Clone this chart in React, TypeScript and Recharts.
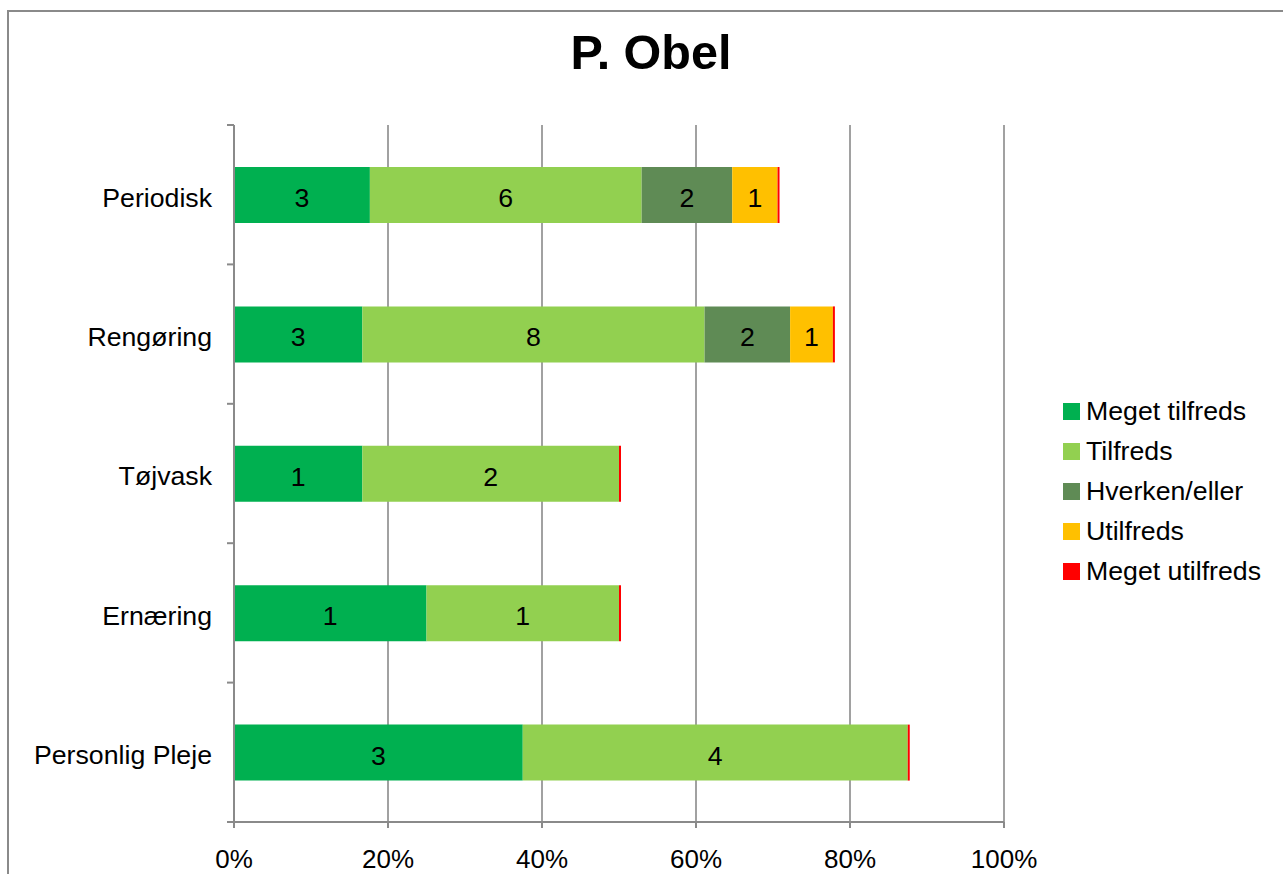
import React from 'react';
import { BarChart, Bar, XAxis, YAxis, CartesianGrid, Legend, LabelList } from 'recharts';

// Satisfaction answers per service area (counts of respondents)
const categories = ['Periodisk', 'Rengøring', 'Tøjvask', 'Ernæring', 'Personlig Pleje'];
const respondents = [17, 18, 6, 4, 8];
const megetTilfreds = [3, 3, 1, 1, 3];
const tilfreds = [6, 8, 2, 1, 4];
const hverkenEller = [2, 2, 0, 0, 0];
const utilfreds = [1, 1, 0, 0, 0];
const megetUtilfreds = [0, 0, 0, 0, 0];
const percentTicks = [0, 0.2, 0.4, 0.6, 0.8, 1];

const seriesNames = ['Meget tilfreds', 'Tilfreds', 'Hverken/eller', 'Utilfreds', 'Meget utilfreds'];
const seriesColors = ['#00B050', '#92D050', '#5F8B55', '#FFC000', '#FF0000'];
const seriesCounts = [megetTilfreds, tilfreds, hverkenEller, utilfreds, megetUtilfreds];

// Each row holds the count (n#) and the share of respondents (p#) per answer
const rows = categories.map((name, i) => {
  const row: Record<string, string | number> = { name };
  seriesCounts.forEach((counts, s) => {
    row[`n${s}`] = counts[i];
    row[`p${s}`] = counts[i] / respondents[i];
  });
  return row;
});

const FONT = '"Liberation Sans", Arial, sans-serif';
const TEXT_SIZE = 26.7;
const AXIS_COLOR = '#8a8a8a';
const W = 1283;
const H = 874;
const MARGIN = { top: 125, right: 279, bottom: 12, left: 0 };
const Y_AXIS_W = 234;
const X_AXIS_H = 40;
const PLOT_H = H - MARGIN.top - MARGIN.bottom - X_AXIS_H;
const HALF_BAND = PLOT_H / categories.length / 2;

const CategoryTick = (props: any) => {
  const { x, y, payload, index } = props;
  return (
    <g>
      <line x1={x - 7} x2={x} y1={y - HALF_BAND} y2={y - HALF_BAND} stroke={AXIS_COLOR} strokeWidth={2} />
      {index === categories.length - 1 && (
        <line x1={x - 7} x2={x} y1={y + HALF_BAND} y2={y + HALF_BAND} stroke={AXIS_COLOR} strokeWidth={2} />
      )}
      <text x={x - 22} y={y} dy={11.8} textAnchor="end" fill="#000" fontSize={TEXT_SIZE} fontFamily={FONT}>
        {payload.value}
      </text>
    </g>
  );
};

const renderCount = (props: any) => {
  const { value } = props;
  if (!value) return null;
  const vb = props.viewBox ?? props;
  const { x, y, width, height } = vb;
  return (
    <text
      x={x + width / 2}
      y={y + height / 2}
      dy={12}
      textAnchor="middle"
      fill="#000"
      fontSize={TEXT_SIZE}
      fontFamily={FONT}
    >
      {value}
    </text>
  );
};

const LegendBox = () => (
  <div style={{ fontFamily: FONT, fontSize: TEXT_SIZE, color: '#000' }}>
    {seriesNames.map((name, s) => (
      <div key={name} style={{ display: 'flex', alignItems: 'center', height: 40, lineHeight: '40px' }}>
        <span style={{ display: 'inline-block', width: 17, height: 17, background: seriesColors[s], marginRight: 6 }} />
        <span style={{ whiteSpace: 'nowrap' }}>{name}</span>
      </div>
    ))}
  </div>
);

export default function App() {
  return (
    <div
      style={{
        position: 'fixed',
        left: 0,
        top: 0,
        width: W,
        height: H,
        overflow: 'hidden',
        background: '#fff',
      }}
    >
      <div
        style={{
          position: 'absolute',
          left: 7,
          top: 10,
          width: W + 40,
          height: H + 40,
          border: `2px solid ${AXIS_COLOR}`,
        }}
      />
      <div
        style={{
          position: 'absolute',
          left: 0,
          top: 28,
          width: 1302,
          textAlign: 'center',
          fontFamily: FONT,
          fontWeight: 'bold',
          fontSize: 48.5,
          lineHeight: '48px',
          color: '#000',
        }}
      >
        P. Obel
      </div>
      <div style={{ position: 'absolute', left: 0, top: 0 }}>
        <BarChart width={W} height={H} data={rows} layout="vertical" margin={MARGIN} barSize={56}>
          <CartesianGrid horizontal={false} vertical stroke={AXIS_COLOR} strokeWidth={1.6} />
          <XAxis
            type="number"
            domain={[0, 1]}
            ticks={percentTicks}
            interval={0}
            tickFormatter={(v: number) => `${Math.round(v * 100)}%`}
            height={X_AXIS_H}
            tickSize={6}
            tickMargin={21.5}
            axisLine={{ stroke: AXIS_COLOR, strokeWidth: 2 }}
            tickLine={{ stroke: AXIS_COLOR, strokeWidth: 2 }}
            tick={{ fill: '#000', fontSize: 26, fontFamily: FONT }}
          />
          <YAxis
            type="category"
            dataKey="name"
            width={Y_AXIS_W}
            interval={0}
            tickSize={0}
            tickMargin={0}
            tickLine={false}
            axisLine={{ stroke: AXIS_COLOR, strokeWidth: 2 }}
            tick={<CategoryTick />}
          />
          <Legend
            layout="horizontal"
            align="center"
            verticalAlign="middle"
            wrapperStyle={{ left: 1063, top: 391, width: 220 }}
            content={() => <LegendBox />}
          />
          {seriesNames.map((name, s) => (
            <Bar
              key={name}
              dataKey={`p${s}`}
              name={name}
              stackId="answers"
              fill={seriesColors[s]}
              isAnimationActive={false}
              minPointSize={s === seriesNames.length - 1 ? 2 : 0}
            >
              {s < seriesNames.length - 1 && <LabelList dataKey={`n${s}`} content={renderCount} />}
            </Bar>
          ))}
        </BarChart>
      </div>
    </div>
  );
}
